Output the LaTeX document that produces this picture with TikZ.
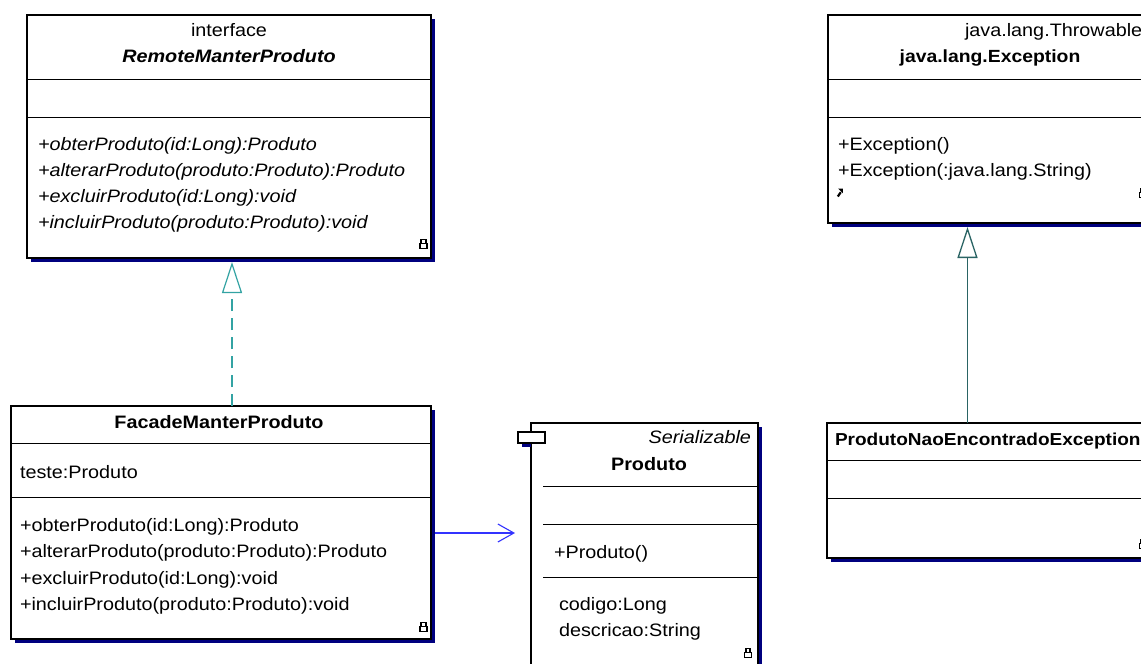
\documentclass[tikz,border=0pt]{standalone}
\usepackage{fontspec}
\setmainfont{Liberation Sans}[FakeStretch=1.1]
\usetikzlibrary{arrows.meta,calc,shadows}
\definecolor{shadowblue}{HTML}{00007F}
\definecolor{realcol}{HTML}{33A3A3}
\definecolor{inhcol}{HTML}{2A6464}
\definecolor{assoccol}{HTML}{3333FF}

\begin{document}
\begin{tikzpicture}[x=1pt,y=-1pt,
  cls/.style={draw=black, line width=1.1pt, fill=white, rectangle,
    anchor=north west, inner sep=0pt, outer sep=0pt,
    drop shadow={shadow xshift=4pt, shadow yshift=-4pt, fill=shadowblue, opacity=1}},
  tab/.style={draw=black, line width=1.1pt, fill=white, rectangle,
    anchor=north west, inner sep=0pt, outer sep=0pt},
  div/.style={draw=black, line width=1pt},
  txt/.style={inner sep=0pt, outer sep=0pt, font=\fontsize{18}{22}\selectfont},
  ttl/.style={txt, font=\fontsize{18}{22}\selectfont\bfseries},
  itl/.style={txt, font=\fontsize{18}{22}\selectfont\itshape},
  real/.style={draw=realcol, line width=1.2pt, dash pattern=on 12pt off 7pt,
    -{Triangle[open, length=31pt, width=20pt, line width=1.2pt]}, shorten >=4pt},
  inh/.style={draw=inhcol, line width=1.3pt,
    -{Triangle[open, length=31pt, width=20pt, line width=1.3pt]}, shorten >=4pt},
  assoc/.style={draw=assoccol, line width=1.1pt,
    -{Straight Barb[length=16pt, width=18pt, line width=1.1pt]}, shorten >=3pt},
  lockicon/.pic={
    \draw[line width=1.7pt] (-2.2,-0.5) -- (-2.2,-4.5) -- (2.2,-4.5) -- (2.2,-0.5);
    \draw[line width=1.7pt] (-3.6,-0.5) rectangle (3.6,4.6);
  },
  jumpicon/.pic={
    \draw[line width=2.2pt] (-2.2,4) -- (0.8,-0.3);
    \fill (-1.8,-3.8) -- (2.8,-3.8) -- (2.8,0.8) -- cycle;
  }
]
\useasboundingbox (0,0) rectangle (1141,664);
\fill[white] (0,0) rectangle (1141,664);
\clip (0,0) rectangle (1141,664);

% class boxes
\node[cls, minimum width=404pt, minimum height=243pt] (remote) at (27,15) {};
\node[cls, minimum width=330pt, minimum height=208pt] (exc) at (828,15) {};
\node[cls, minimum width=420pt, minimum height=233pt] (facade) at (11,406) {};
\node[cls, minimum width=227pt, minimum height=260pt] (produto) at (531,423) {};
\node[cls, minimum width=330pt, minimum height=135pt] (pnee) at (827,423) {};

% component tab on Produto
\fill[shadowblue] (522,443) rectangle (531,447);
\node[tab, minimum width=27pt, minimum height=11pt] (prodtab) at (518,432) {};

% connectors
\coordinate (realx) at (232,0);
\coordinate (inhx) at (967.5,0);
\coordinate (assocy) at (0,533);
\draw[real] (facade.north -| realx) -- (remote.south -| realx);
\draw[inh] (pnee.north -| inhx) -- (exc.south -| inhx);
\draw[assoc] ($(facade.east |- assocy)+(4,0)$) -- (prodtab.west |- assocy);

% compartments
\draw[div] ($(remote.north west)+(0,64)$) -- ($(remote.north east)+(0,64)$);
\draw[div] ($(remote.north west)+(0,102)$) -- ($(remote.north east)+(0,102)$);
\draw[div] ($(exc.north west)+(0,64)$) -- ($(exc.north east)+(0,64)$);
\draw[div] ($(exc.north west)+(0,102)$) -- ($(exc.north east)+(0,102)$);
\draw[div] ($(facade.north west)+(0,37)$) -- ($(facade.north east)+(0,37)$);
\draw[div] ($(facade.north west)+(0,91)$) -- ($(facade.north east)+(0,91)$);
\draw[div] ($(produto.north west)+(12,63)$) -- ($(produto.north east)+(0,63)$);
\draw[div] ($(produto.north west)+(12,101)$) -- ($(produto.north east)+(0,101)$);
\draw[div] ($(produto.north west)+(12,154)$) -- ($(produto.north east)+(0,154)$);
\draw[div] ($(pnee.north west)+(0,37)$) -- ($(pnee.north east)+(0,37)$);
\draw[div] ($(pnee.north west)+(0,75)$) -- ($(pnee.north east)+(0,75)$);

% RemoteManterProduto
\node[txt, anchor=base] (r-st) at (229,36.5) {interface};
\node[ttl, font=\fontsize{18}{22}\selectfont\bfseries\itshape, anchor=base] (r-name) at (229,62) {RemoteManterProduto};
\node[itl, anchor=base west] (r-m1) at (38,150) {+obterProduto(id:Long):Produto};
\node[itl, anchor=base west] (r-m2) at (38,176) {+alterarProduto(produto:Produto):Produto};
\node[itl, anchor=base west] (r-m3) at (38,202) {+excluirProduto(id:Long):void};
\node[itl, anchor=base west] (r-m4) at (38,228) {+incluirProduto(produto:Produto):void};
\pic at (423.5,244) {lockicon};

% java.lang.Exception
\node[txt, anchor=base west] (e-st) at (965,36.5) {java.lang.Throwable};
\node[ttl, font=\fontsize{17.6}{22}\selectfont\bfseries, anchor=base] (e-name) at (990,62.5) {java.lang.Exception};
\node[txt, anchor=base west] (e-m1) at (838,150) {+Exception()};
\node[txt, anchor=base west] (e-m2) at (838,176) {+Exception(:java.lang.String)};
\pic at (840,192.5) {jumpicon};
\pic at (1143,193) {lockicon};

% FacadeManterProduto
\node[ttl, anchor=base] (f-name) at (219,428) {FacadeManterProduto};
\node[txt, anchor=base west] (f-a1) at (20,478) {teste:Produto};
\node[txt, anchor=base west] (f-m1) at (20,531.5) {+obterProduto(id:Long):Produto};
\node[txt, anchor=base west] (f-m2) at (20,557.8) {+alterarProduto(produto:Produto):Produto};
\node[txt, anchor=base west] (f-m3) at (20,584) {+excluirProduto(id:Long):void};
\node[txt, anchor=base west] (f-m4) at (20,610.3) {+incluirProduto(produto:Produto):void};
\pic at (423.5,627) {lockicon};

% Produto
\node[itl, anchor=base east] (p-st) at (751,443) {Serializable};
\node[ttl, anchor=base] (p-name) at (649,470) {Produto};
\node[txt, anchor=base west] (p-m1) at (554,558) {+Produto()};
\node[txt, anchor=base west] (p-a1) at (559,610) {codigo:Long};
\node[txt, anchor=base west] (p-a2) at (559,636) {descricao:String};
\pic at (748,653) {lockicon};

% ProdutoNaoEncontradoException
\node[ttl, font=\fontsize{17.3}{22}\selectfont\bfseries, anchor=base west] (n-name) at (835,445) {ProdutoNaoEncontradoException};
\pic at (1143,544) {lockicon};
\end{tikzpicture}
\end{document}
